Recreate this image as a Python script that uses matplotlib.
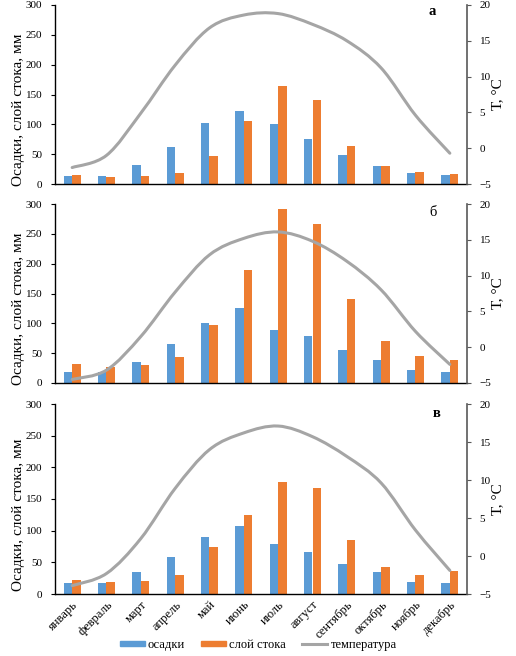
import numpy as np
import matplotlib
matplotlib.use("Agg")
import matplotlib.pyplot as plt
from matplotlib.path import Path
from matplotlib.patches import PathPatch, Patch
from matplotlib.lines import Line2D

plt.rcParams['font.family'] = ['Liberation Serif', 'DejaVu Serif']

months = ['январь', 'февраль', 'март', 'апрель', 'май', 'июнь',
          'июль', 'август', 'сентябрь', 'октябрь', 'ноябрь', 'декабрь']

# panel а
precip_a = [13, 14, 32, 62, 102, 123, 100, 75, 49, 31, 18, 15]
runoff_a = [15, 11, 13, 19, 47, 105, 164, 140, 64, 30, 20, 16]
temp_a = [-2.7, -1.0, 4.9, 11.6, 16.8, 18.6, 18.8, 17.3, 15.0, 11.2, 4.6, -0.7]

# panel б
precip_b = [18, 18, 36, 65, 100, 126, 88, 78, 56, 38, 21, 18]
runoff_b = [32, 26, 30, 43, 98, 189, 292, 266, 140, 71, 46, 38]
temp_b = [-4.5, -3.2, 1.5, 7.7, 12.9, 15.2, 16.1, 14.8, 12.0, 8.0, 2.2, -2.4]

# panel в
precip_c = [17, 17, 34, 59, 90, 107, 79, 66, 48, 34, 19, 17]
runoff_c = [22, 19, 21, 30, 74, 125, 177, 167, 85, 42, 30, 36]
temp_c = [-3.9, -2.3, 2.3, 8.9, 14.0, 16.2, 17.1, 15.7, 13.1, 9.6, 3.4, -1.9]

panels = [('а', 'bold', 0.915, 0.966, precip_a, runoff_a, temp_a),
          ('б', 'normal', 0.917, 0.95, precip_b, runoff_b, temp_b),
          ('в', 'bold', 0.927, 0.95, precip_c, runoff_c, temp_c)]

BLUE = '#5B9BD5'
ORANGE = '#ED7D31'
GRAY = '#A5A5A5'


def smooth_path(xs, ys):
    # excel-like smoothed line: bezier segments through the data points
    pts = np.column_stack([xs, ys]).astype(float)
    n = len(pts)
    verts = [pts[0]]
    codes = [Path.MOVETO]
    for i in range(n - 1):
        p0 = pts[max(i - 1, 0)]
        p1 = pts[i]
        p2 = pts[i + 1]
        p3 = pts[min(i + 2, n - 1)]
        verts += [p1 + (p2 - p0) / 6, p2 - (p3 - p1) / 6, p2]
        codes += [Path.CURVE4] * 3
    return Path(verts, codes)


W, H = 516, 656
fig = plt.figure(figsize=(W / 100, H / 100), dpi=100)

boxes = [(5, 184), (204, 383), (404, 594)]
x = np.arange(len(months))
bw = 0.243

for (label, weight, lx, ly, prec, runoff, temp), (top, bot) in zip(panels, boxes):
    ax = fig.add_axes([55 / W, (H - bot) / H, 412 / W, (bot - top) / H])
    ax.bar(x - bw / 2, prec, bw, color=BLUE, zorder=2)
    ax.bar(x + bw / 2, runoff, bw, color=ORANGE, zorder=2)
    ax.set_xlim(-0.5, 11.5)
    ax.set_ylim(0, 300)
    ax.set_yticks(range(0, 301, 50))
    ax.tick_params(axis='y', labelsize=8, length=3, width=0.8, pad=6)
    ax.tick_params(axis='x', length=0)
    ax.set_ylabel('Осадки, слой стока, мм', fontsize=11)
    # excel placed the axis title a bit below the plot centre
    ax.yaxis.set_label_coords(-0.073, 0.415)
    for s in ['top', 'right']:
        ax.spines[s].set_visible(False)
    ax.spines['left'].set_linewidth(1.0)
    ax.spines['bottom'].set_linewidth(1.0)

    ax2 = ax.twinx()
    ax2.set_ylim(-5, 20)
    ax2.set_yticks(range(-5, 21, 5))
    ax2.add_patch(PathPatch(smooth_path(x, temp), facecolor='none',
                            edgecolor=GRAY, lw=2.2, zorder=3,
                            capstyle='round', joinstyle='round'))
    ax2.tick_params(axis='y', labelsize=8, length=3, width=0.8,
                    color='#595959', pad=6)
    ax2.set_ylabel('Т, °С', fontsize=11, labelpad=0)
    for s in ['top', 'left', 'bottom']:
        ax2.spines[s].set_visible(False)
    ax2.spines['right'].set_color('#595959')
    ax2.spines['right'].set_linewidth(1.2)

    ax.text(lx, ly, label, transform=ax.transAxes, fontsize=10.5,
            fontweight=weight, ha='center', va='center')

    if label == 'в':
        ax.set_xticks(x)
        ax.set_xticklabels(months, rotation=45, ha='right',
                           rotation_mode='anchor', fontsize=9)
    else:
        ax.set_xticks([])

handles = [Patch(color=BLUE), Patch(color=ORANGE),
           Line2D([], [], color=GRAY, lw=2.2)]
fig.legend(handles, ['осадки', 'слой стока', 'температура'],
           loc='center', bbox_to_anchor=(0.5, 1 - 645 / H), ncol=3,
           frameon=False, fontsize=9, handlelength=2.0, handleheight=0.32,
           columnspacing=1.3, handletextpad=0.25)

fig.savefig('out.png', dpi=100)
